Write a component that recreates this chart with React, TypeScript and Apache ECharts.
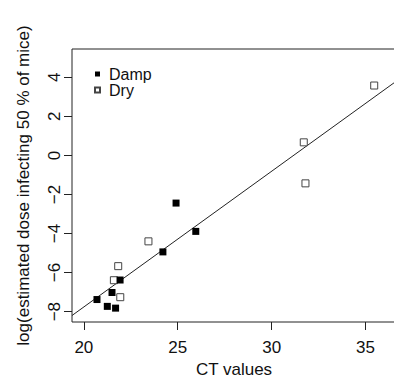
import React, { useEffect, useRef } from "react";
import * as echarts from "echarts";

// Damp samples: CT value vs log(estimated dose infecting 50 % of mice)
const dampCT = [20.7, 21.25, 21.5, 21.69, 21.93, 24.21, 24.91, 25.96];
const dampLogDose = [-7.38, -7.73, -7.02, -7.82, -6.38, -4.94, -2.44, -3.89];

// Dry samples
const dryCT = [21.6, 21.83, 21.94, 23.44, 31.71, 31.8, 35.46];
const dryLogDose = [-6.39, -5.67, -7.26, -4.4, 0.67, -1.43, 3.58];

// Fitted regression line
const fitIntercept = -21.66;
const fitSlope = 0.695;

// Axis ranges and tick labels
const xMin = 19.37;
const xMax = 36.62;
const yMin = -8.53;
const yMax = 5.45;
const xTicks = [20, 25, 30, 35];
const yTicks = [-8, -6, -4, -2, 0, 2, 4];

const FONT = "'Liberation Sans', Arial, Helvetica, sans-serif";
const FS = 17;

export default function App() {
  const ref = useRef<HTMLDivElement>(null);

  useEffect(() => {
    if (!ref.current) return;
    const chart = echarts.init(ref.current, undefined, { renderer: "svg" });

    const damp = dampCT.map((x, i) => [x, dampLogDose[i]]);
    const dry = dryCT.map((x, i) => [x, dryLogDose[i]]);
    const fit = [
      [xMin, fitIntercept + fitSlope * xMin],
      [xMax, fitIntercept + fitSlope * xMax],
    ];

    chart.setOption({
      animation: false,
      backgroundColor: "#fff",
      textStyle: { fontFamily: FONT },
      grid: {
        left: 72,
        top: 49,
        right: -2,
        bottom: 56,
        show: true,
        borderColor: "#222",
        borderWidth: 1,
        backgroundColor: "transparent",
        containLabel: false,
        outerBoundsMode: "none",
      },
      legend: {
        orient: "vertical",
        left: 94,
        top: 66,
        itemWidth: 5,
        itemHeight: 5,
        itemGap: 0,
        padding: 0,
        textStyle: {
          fontSize: 16,
          lineHeight: 16,
          color: "#111",
          fontFamily: FONT,
          padding: [0, 0, 0, 4],
        },
        data: [
          { name: "Damp", icon: "rect" },
          { name: "Dry", icon: "rect" },
        ],
      },
      xAxis: {
        type: "value",
        min: xMin,
        max: xMax,
        name: "CT values",
        nameLocation: "middle",
        nameGap: 38,
        nameTextStyle: { fontSize: FS, color: "#111", fontFamily: FONT },
        axisLine: { show: false, onZero: false },
        splitLine: { show: false },
        axisTick: {
          show: true,
          length: 8,
          lineStyle: { color: "#222", width: 1 },
          customValues: xTicks,
        },
        axisLabel: {
          fontSize: FS,
          color: "#111",
          margin: 17,
          fontFamily: FONT,
          customValues: xTicks,
        },
      },
      yAxis: {
        type: "value",
        min: yMin,
        max: yMax,
        name: "log(estimated dose infecting 50 % of mice)",
        nameLocation: "middle",
        nameRotate: 90,
        nameGap: 40,
        nameTextStyle: { fontSize: FS, color: "#111", fontFamily: FONT },
        axisLine: { show: false, onZero: false },
        splitLine: { show: false },
        axisTick: {
          show: true,
          length: 8,
          lineStyle: { color: "#222", width: 1 },
          customValues: yTicks,
        },
        axisLabel: {
          fontSize: FS,
          color: "#111",
          rotate: 90,
          margin: 9,
          fontFamily: FONT,
          customValues: yTicks,
          formatter: (v: number) => String(v).replace("-", "\u2212"),
        },
      },
      series: [
        {
          name: "fit",
          type: "line",
          data: fit,
          symbol: "none",
          silent: true,
          clip: true,
          lineStyle: { color: "#222", width: 1 },
          z: 1,
        },
        {
          name: "Damp",
          type: "scatter",
          data: damp,
          symbol: "rect",
          symbolSize: 7,
          itemStyle: { color: "#000", opacity: 1 },
          z: 3,
        },
        {
          name: "Dry",
          type: "scatter",
          data: dry,
          symbol: "rect",
          symbolSize: 7,
          itemStyle: { color: "#fff", borderColor: "#444", borderWidth: 1, opacity: 1 },
          z: 2,
        },
      ],
    });

    return () => chart.dispose();
  }, []);

  return (
    <div
      ref={ref}
      style={{ position: "fixed", left: 0, top: 0, width: 394, height: 378 }}
    />
  );
}
